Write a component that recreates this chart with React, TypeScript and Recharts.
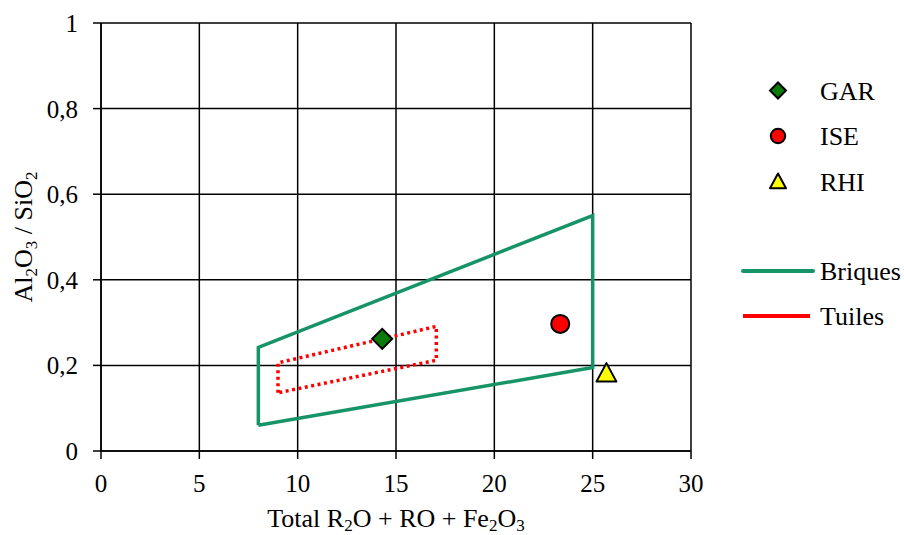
import {
  CartesianGrid,
  Scatter,
  ScatterChart,
  XAxis,
  YAxis,
} from "recharts";

// samples
const SAMPLE_NAMES = ["GAR", "ISE", "RHI"];
const SAMPLE_TOTAL = [14.3, 23.35, 25.7];
const SAMPLE_RATIO = [0.262, 0.297, 0.182];

// domain outlines (closed polygons)
const BRIQUES_TOTAL = [8, 8, 25, 25, 8];
const BRIQUES_RATIO = [0.06, 0.242, 0.55, 0.195, 0.06];
const TUILES_TOTAL = [9, 9, 17.05, 17.05, 9];
const TUILES_RATIO = [0.136, 0.206, 0.291, 0.212, 0.136];

const X_TICKS = [0, 5, 10, 15, 20, 25, 30];
const Y_TICKS = [0, 0.2, 0.4, 0.6, 0.8, 1];

const FONT = "Liberation Serif";
const TXT = { fontFamily: FONT, fill: "#000" };
const FS = 26;
const SUB = 17;

const SAMPLE_STYLE: Record<string, { fill: string; shape: string }> = {
  GAR: { fill: "#0a7a0a", shape: "diamond" },
  ISE: { fill: "#ff0000", shape: "circle" },
  RHI: { fill: "#ffff00", shape: "triangle" },
};

const BRIQUES_COLOR = "#179467";
const TUILES_COLOR = "#ff0000";

const toPoints = (xs: number[], ys: number[]) =>
  xs.map((x, i) => ({ x, y: ys[i] }));

const Marker = ({ kind, cx, cy, fill, r }: any) => {
  if (kind === "diamond") {
    return (
      <polygon
        points={`${cx},${cy - r} ${cx + r},${cy} ${cx},${cy + r} ${cx - r},${cy}`}
        fill={fill}
        stroke="#000"
        strokeWidth={2}
      />
    );
  }
  if (kind === "triangle") {
    return (
      <polygon
        points={`${cx},${cy - r} ${cx + r},${cy + r * 0.85} ${cx - r},${cy + r * 0.85}`}
        fill={fill}
        stroke="#000"
        strokeWidth={2}
        strokeLinejoin="round"
      />
    );
  }
  return <circle cx={cx} cy={cy} r={r * 0.9} fill={fill} stroke="#000" strokeWidth={2} />;
};

const fmt = (v: number) => String(v).replace(".", ",");

// tick renderer with explicit serif font
const Tick = ({ x, y, payload, axis }: any) =>
  axis === "x" ? (
    <text x={x} y={y + 18} textAnchor="middle" fontSize={25} style={TXT}>
      {payload.value}
    </text>
  ) : (
    <text x={x} y={y + 9} textAnchor="end" fontSize={25} style={TXT}>
      {fmt(payload.value)}
    </text>
  );

const XTitle = ({ viewBox }: any) => {
  const cx = viewBox.x + viewBox.width / 2;
  return (
    <text x={cx} y={527} textAnchor="middle" style={TXT} fontSize={FS}>
      Total R<tspan dy={4} fontSize={SUB}>2</tspan>
      <tspan dy={-4}>O + RO + Fe</tspan>
      <tspan dy={4} fontSize={SUB}>2</tspan>
      <tspan dy={-4}>O</tspan>
      <tspan dy={4} fontSize={SUB}>3</tspan>
    </text>
  );
};

const YTitle = ({ viewBox }: any) => {
  const cy = viewBox.y + viewBox.height / 2;
  const x = 32;
  return (
    <text
      x={x}
      y={cy}
      transform={`rotate(-90 ${x} ${cy})`}
      textAnchor="middle"
      style={TXT}
      fontSize={FS}
    >
      Al<tspan dy={5} fontSize={SUB}>2</tspan>
      <tspan dy={-5}>O</tspan>
      <tspan dy={5} fontSize={SUB}>3</tspan>
      <tspan dy={-5}> / SiO</tspan>
      <tspan dy={5} fontSize={SUB}>2</tspan>
    </text>
  );
};

const Legend = () => (
  <svg width={184} height={300} style={{ position: "absolute", left: 720, top: 60 }}>
    {SAMPLE_NAMES.map((name, i) => {
      const y = 30.5 + i * 45.5;
      return (
        <g key={name}>
          <Marker kind={SAMPLE_STYLE[name].shape} cx={58} cy={y} fill={SAMPLE_STYLE[name].fill} r={8} />
          <text x={100} y={y + 9} fontSize={FS} style={TXT}>
            {name}
          </text>
        </g>
      );
    })}
    <line x1={23} x2={93} y1={211} y2={211} stroke={BRIQUES_COLOR} strokeWidth={4} strokeLinecap="round" />
    <text x={100} y={220} fontSize={FS} style={TXT}>Briques</text>
    <line x1={23} x2={90} y1={256} y2={256} stroke={TUILES_COLOR} strokeWidth={4} />
    <text x={100} y={265} fontSize={FS} style={TXT}>Tuiles</text>
  </svg>
);

export default function App() {
  const samples = SAMPLE_NAMES.map((name, i) => ({
    name,
    x: SAMPLE_TOTAL[i],
    y: SAMPLE_RATIO[i],
  }));

  return (
    <div
      style={{
        position: "absolute",
        left: 0,
        top: 0,
        width: 904,
        height: 535,
        background: "#fff",
        overflow: "hidden",
      }}
    >
      <ScatterChart
        width={904}
        height={535}
        margin={{ top: 23, right: 213, bottom: 0, left: 0 }}
      >
        <CartesianGrid stroke="#000" strokeWidth={1.5} horizontalValues={Y_TICKS} verticalValues={X_TICKS} />
        <XAxis
          type="number"
          dataKey="x"
          domain={[0, 30]}
          ticks={X_TICKS}
          height={84}
          stroke="#000"
          strokeWidth={1.5}
          tickSize={8}
          tickMargin={15}
          tick={<Tick axis="x" />}
          label={<XTitle />}
        />
        <YAxis
          type="number"
          dataKey="y"
          domain={[0, 1]}
          ticks={Y_TICKS}
          width={101}
          stroke="#000"
          strokeWidth={1.5}
          tickSize={8}
          tickMargin={15}
          tick={<Tick axis="y" />}
          label={<YTitle />}
        />
        <Scatter
          name="Briques"
          data={toPoints(BRIQUES_TOTAL, BRIQUES_RATIO)}
          line={{ stroke: BRIQUES_COLOR, strokeWidth: 3.5 }}
          lineType="joint"
          shape={() => <g />}
          isAnimationActive={false}
        />
        <Scatter
          name="Tuiles"
          data={toPoints(TUILES_TOTAL, TUILES_RATIO)}
          line={{ stroke: TUILES_COLOR, strokeWidth: 3.5, strokeDasharray: "3 3.5" }}
          lineType="joint"
          shape={() => <g />}
          isAnimationActive={false}
        />
        {samples.map((s) => (
          <Scatter
            key={s.name}
            name={s.name}
            data={[s]}
            isAnimationActive={false}
            shape={(p: any) => (
              <Marker
                kind={SAMPLE_STYLE[s.name].shape}
                cx={p.cx}
                cy={p.cy}
                fill={SAMPLE_STYLE[s.name].fill}
                r={10}
              />
            )}
          />
        ))}
      </ScatterChart>
      <Legend />
    </div>
  );
}
